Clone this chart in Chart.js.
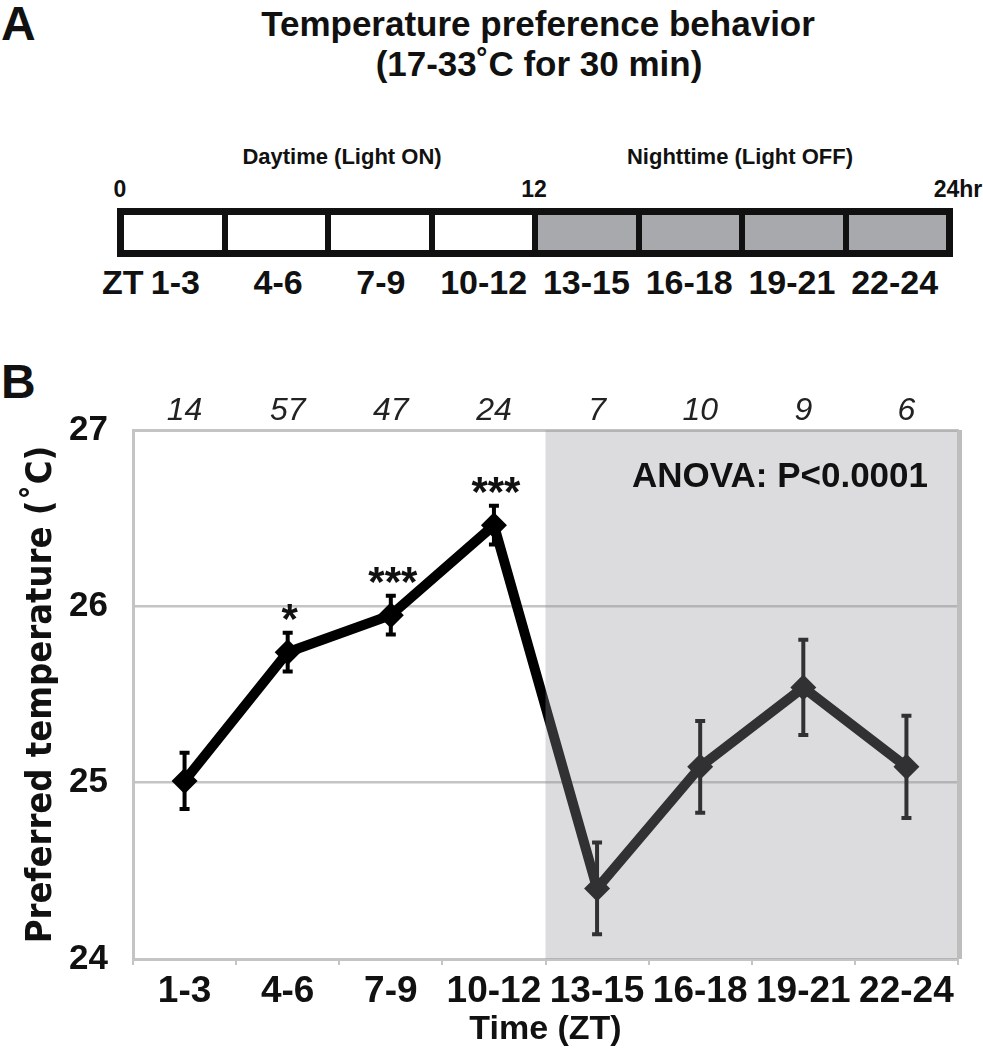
<!DOCTYPE html>
<html>
<head>
<meta charset="utf-8">
<script src="https://cdn.jsdelivr.net/npm/chart.js@4.4.0/dist/chart.umd.min.js"></script>
<style>
  body { margin: 0; width: 983px; height: 1050px; position: relative; overflow: hidden; background: #fff;
         font-family: 'Liberation Sans', Arial, sans-serif; color: #111; }
  .abs { position: absolute; white-space: nowrap; line-height: 1; }
  .bold { font-weight: bold; }
  .center { transform: translateX(-50%); }
  #bar { position: absolute; left: 117px; top: 208px; width: 836px; height: 49px; box-sizing: border-box;
         border: 7px solid #111; display: flex; }
  #bar div { flex: 1; }
  #bar div + div { border-left: 6px solid #111; }
  #barLabels { position: absolute; left: 124px; top: 265px; width: 822px; display: flex; }
  #barLabels span { flex: 1; text-align: center; font-weight: bold; font-size: 34px; line-height: 1; }
  #chartBox { position: absolute; left: 0; top: 330px; width: 983px; height: 720px; }
</style>
</head>
<body>
<div class="abs bold" style="left:1px;top:0px;font-size:48px;">A</div>
<div class="abs bold center" style="left:538px;top:6px;font-size:35px;">Temperature preference behavior</div>
<div class="abs bold center" style="left:539px;top:46px;font-size:35px;">(17-33˚C for 30 min)</div>

<div class="abs bold center" style="left:342px;top:146px;font-size:22px;">Daytime (Light ON)</div>
<div class="abs bold center" style="left:740px;top:146px;font-size:22px;">Nighttime (Light OFF)</div>
<div class="abs bold center" style="left:120px;top:178px;font-size:23px;">0</div>
<div class="abs bold center" style="left:534px;top:178px;font-size:23px;">12</div>
<div class="abs bold center" style="left:958px;top:178px;font-size:23px;">24hr</div>

<div id="bar"></div>
<div class="abs bold" style="left:102px;top:265px;font-size:34px;">ZT</div>
<div id="barLabels"></div>

<div class="abs bold" style="left:1px;top:358px;font-size:48px;">B</div>

<div id="chartBox"><canvas id="tempChart" width="983" height="720"></canvas></div>

<script>
// ZT bins (3 h each), first four in the light, last four in the dark
const zoneLabels = ['1-3', '4-6', '7-9', '10-12', '13-15', '16-18', '19-21', '22-24'];
const nightStart = 4;
// number of flies tested per bin (italic numbers above the plot)
const nCounts = ['14', '57', '47', '24', '7', '10', '9', '6'];
// preferred temperature, mean and SEM
const meanTemp = [25.01, 25.74, 25.95, 26.46, 24.40, 25.09, 25.54, 25.09];
const semTemp = [0.16, 0.11, 0.11, 0.11, 0.26, 0.26, 0.27, 0.29];
const stars = ['', '*', '***', '***', '', '', '', ''];
const yTicks = [24, 25, 26, 27];

const narrow = "'Liberation Sans Narrow', 'DejaVu Sans Condensed', 'Liberation Sans', Arial, sans-serif";
const gridGrey = '#c4c4c4';

// panel A: the light/dark bar
const bar = document.getElementById('bar');
const barLabels = document.getElementById('barLabels');
zoneLabels.forEach((label, i) => {
    const cell = document.createElement('div');
    cell.style.background = i < nightStart ? '#fff' : '#a8a9ac';
    bar.appendChild(cell);
    const span = document.createElement('span');
    span.textContent = label;
    barLabels.appendChild(span);
});

Chart.defaults.font.family = "'Liberation Sans', Arial, sans-serif";
Chart.defaults.color = '#111';

const panelB = {
    id: 'panelB',
    beforeDatasetsDraw(chart) {
        const ctx = chart.ctx;
        const y = chart.scales.y;
        const pts = chart.getDatasetMeta(0).data;
        ctx.save();
        ctx.strokeStyle = '#000';
        ctx.lineWidth = 4;
        pts.forEach((p, i) => {
            const top = y.getPixelForValue(meanTemp[i] + semTemp[i]);
            const bot = y.getPixelForValue(meanTemp[i] - semTemp[i]);
            ctx.beginPath();
            ctx.moveTo(p.x, top);
            ctx.lineTo(p.x, bot);
            ctx.moveTo(p.x - 5, top);
            ctx.lineTo(p.x + 5, top);
            ctx.moveTo(p.x - 5, bot);
            ctx.lineTo(p.x + 5, bot);
            ctx.stroke();
        });
        ctx.restore();
    },
    afterDatasetsDraw(chart) {
        const ctx = chart.ctx;
        const area = chart.chartArea;
        const x = chart.scales.x;
        const x0 = (x.getPixelForTick(nightStart - 1) + x.getPixelForTick(nightStart)) / 2;
        ctx.save();
        // dark phase shading, laid over the line so it turns grey
        ctx.fillStyle = 'rgba(150, 150, 156, 0.33)';
        ctx.fillRect(x0, area.top, area.right - x0, area.bottom - area.top);
        ctx.fillStyle = '#bdbdbd';
        ctx.fillRect(area.right - 1, area.top, 5, area.bottom - area.top);
        ctx.restore();
    },
    afterDraw(chart) {
        const ctx = chart.ctx;
        const y = chart.scales.y;
        const pts = chart.getDatasetMeta(0).data;
        ctx.save();
        ctx.fillStyle = '#111';
        ctx.textAlign = 'center';
        ctx.textBaseline = 'alphabetic';
        ctx.font = "bold 42px 'Liberation Sans', Arial, sans-serif";
        pts.forEach((p, i) => {
            if (!stars[i]) return;
            const top = y.getPixelForValue(meanTemp[i] + semTemp[i]);
            ctx.fillText(stars[i], p.x + 2, top - 24 + 0.575 * 42);
        });
        ctx.textAlign = 'right';
        ctx.textBaseline = 'middle';
        ctx.font = "bold 35px 'Liberation Sans', Arial, sans-serif";
        ctx.fillText('ANOVA: P<0.0001', chart.chartArea.right - 30, chart.chartArea.top + 47);
        ctx.restore();
    }
};

new Chart(document.getElementById('tempChart'), {
    type: 'line',
    data: {
        labels: zoneLabels,
        datasets: [{
            data: meanTemp,
            borderColor: '#000',
            backgroundColor: '#000',
            borderWidth: 10,
            tension: 0,
            pointStyle: 'rectRot',
            pointRadius: 13,
            pointBorderWidth: 0
        }]
    },
    options: {
        responsive: false,
        animation: false,
        layout: { padding: { left: 0, right: 25, top: 0, bottom: 0 } },
        plugins: {
            legend: { display: false },
            tooltip: { enabled: false }
        },
        scales: {
            x: {
                type: 'category',
                position: 'bottom',
                offset: true,
                grid: { offset: true, drawOnChartArea: false, drawTicks: true, tickLength: 6, color: gridGrey, lineWidth: 2 },
                border: { color: gridGrey, width: 3 },
                ticks: { font: { size: 37, weight: 'bold' }, padding: 5, maxRotation: 0, autoSkip: false },
                title: { display: true, text: 'Time (ZT)', font: { size: 34, weight: 'bold' }, padding: 0 },
                afterFit(scale) { scale.height = 91; }
            },
            x2: {
                type: 'category',
                position: 'top',
                labels: nCounts,
                offset: true,
                grid: { offset: true, drawOnChartArea: false, drawTicks: false },
                border: { color: gridGrey, width: 3 },
                ticks: { font: { size: 32, style: 'italic' }, color: '#222', padding: 0, maxRotation: 0, autoSkip: false },
                afterFit(scale) { scale.height = 100; }
            },
            y: {
                min: yTicks[0],
                max: yTicks[yTicks.length - 1],
                afterBuildTicks(scale) { scale.ticks = yTicks.map(v => ({ value: v })); },
                grid: { color: gridGrey, lineWidth: 2.5, drawTicks: false },
                border: { color: gridGrey, width: 3 },
                ticks: { font: { size: 35, weight: 'bold' }, padding: 25 },
                title: { display: true, text: 'Preferred temperature (˚C)', font: { family: narrow, size: 36, weight: 'bold' }, padding: { top: 20, bottom: 0 } },
                afterFit(scale) { scale.width = 133; }
            }
        }
    },
    plugins: [panelB]
});
</script>
</body>
</html>
